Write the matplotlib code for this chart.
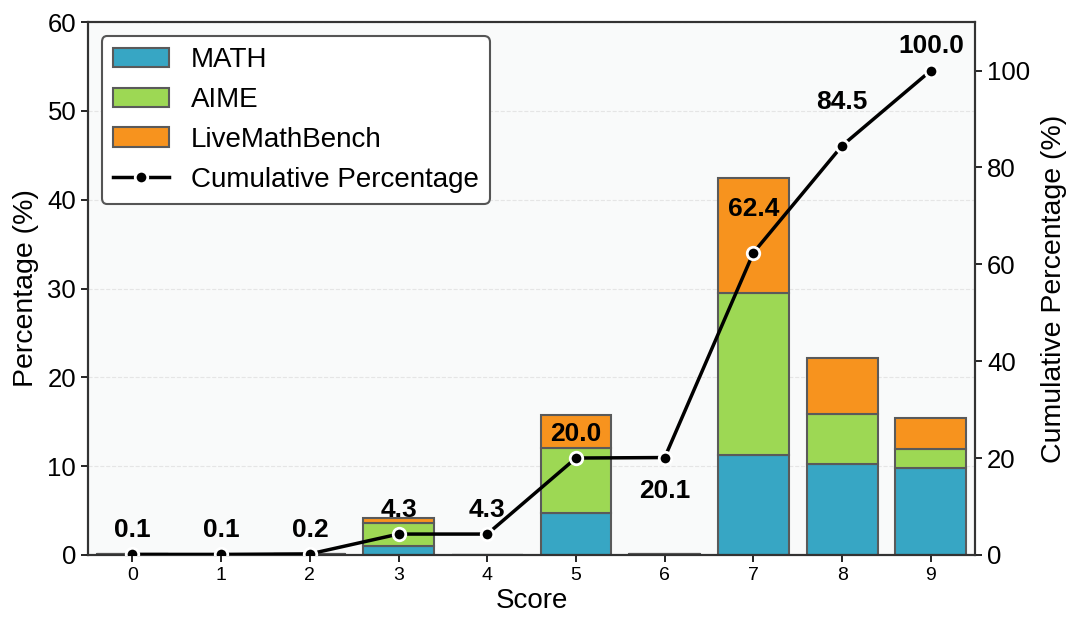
import numpy as np
import matplotlib.pyplot as plt

plt.rcParams['font.family'] = ['Liberation Sans', 'DejaVu Sans']

# data
scores = [0, 1, 2, 3, 4, 5, 6, 7, 8, 9]
math_pct = [0.1, 0.04, 0.1, 1.0, 0.02, 4.7, 0.1, 11.3, 10.2, 9.8]
aime_pct = [0.0, 0.0, 0.0, 2.6, 0.0, 7.3, 0.0, 18.2, 5.7, 2.1]
lmb_pct = [0.0, 0.0, 0.0, 0.6, 0.0, 3.8, 0.0, 12.9, 6.3, 3.5]
cum_pct = [0.1, 0.1, 0.2, 4.3, 4.3, 20.0, 20.1, 62.4, 84.5, 100.0]
# label offsets (right-axis units) used in the original
label_offset = [5, 5, 5, 5, 5, 5, -7, 9, 9, 5]

c_math = '#37a6c4'
c_aime = '#9dd854'
c_lmb = '#f7931e'
edge = '#5a5a5a'

fig, ax = plt.subplots(figsize=(10.8, 6.32), dpi=100)
ax.set_facecolor('#f9fafa')
ax.set_axisbelow(True)
ax.yaxis.grid(True, linestyle='--', color='#dddddd', linewidth=0.8, alpha=0.7)

x = np.array(scores)
m = np.array(math_pct)
a = np.array(aime_pct)
l = np.array(lmb_pct)
bkw = dict(width=0.8, edgecolor=edge, linewidth=1.5)
b1 = ax.bar(x, m, color=c_math, label='MATH', **bkw)
b2 = ax.bar(x, a, bottom=m, color=c_aime, label='AIME', **bkw)
b3 = ax.bar(x, l, bottom=m + a, color=c_lmb, label='LiveMathBench', **bkw)

ax.set_xlim(-0.5, 9.5)
ax.set_ylim(0, 60)
ax.set_xticks(x)
ax.set_xticklabels([str(s) for s in scores], fontsize=14)
ax.tick_params(axis='y', labelsize=18.5)
ax.tick_params(length=5, width=1.2)
ax.set_xlabel('Score', fontsize=20, labelpad=3)
ax.set_ylabel('Percentage (%)', fontsize=20.5, labelpad=6)

ax2 = ax.twinx()
line, = ax2.plot(x, cum_pct, color='black', linewidth=2.5, marker='o',
                 markersize=9, markerfacecolor='black', markeredgecolor='white',
                 markeredgewidth=2, label='Cumulative Percentage', zorder=5)
ax2.set_ylim(0, 110)
ax2.set_yticks([0, 20, 40, 60, 80, 100])
ax2.tick_params(axis='y', labelsize=18.5, length=5, width=1.2)
ax2.set_ylabel('Cumulative Percentage (%)', fontsize=20.5, labelpad=8)

for xi, ci, off in zip(x, cum_pct, label_offset):
    ax2.text(xi, ci + off, f'{ci:.1f}', ha='center', va='center',
             fontsize=19, fontweight='bold', color='black')

for a_ in (ax, ax2):
    for sp in a_.spines.values():
        sp.set_color('#333333')
        sp.set_linewidth(1.5)
ax.spines['left'].set_color('black')
ax.spines['bottom'].set_color('black')

handles = [b1, b2, b3, line]
leg = ax.legend(handles, [h.get_label() for h in handles], loc='upper left',
                fontsize=20, frameon=True, fancybox=True, framealpha=1,
                edgecolor='#555555', handlelength=2.0)
leg.get_frame().set_linewidth(1.5)

fig.subplots_adjust(left=0.0815, right=0.903, top=0.965, bottom=0.122)
fig.savefig('out.png', dpi=100)
